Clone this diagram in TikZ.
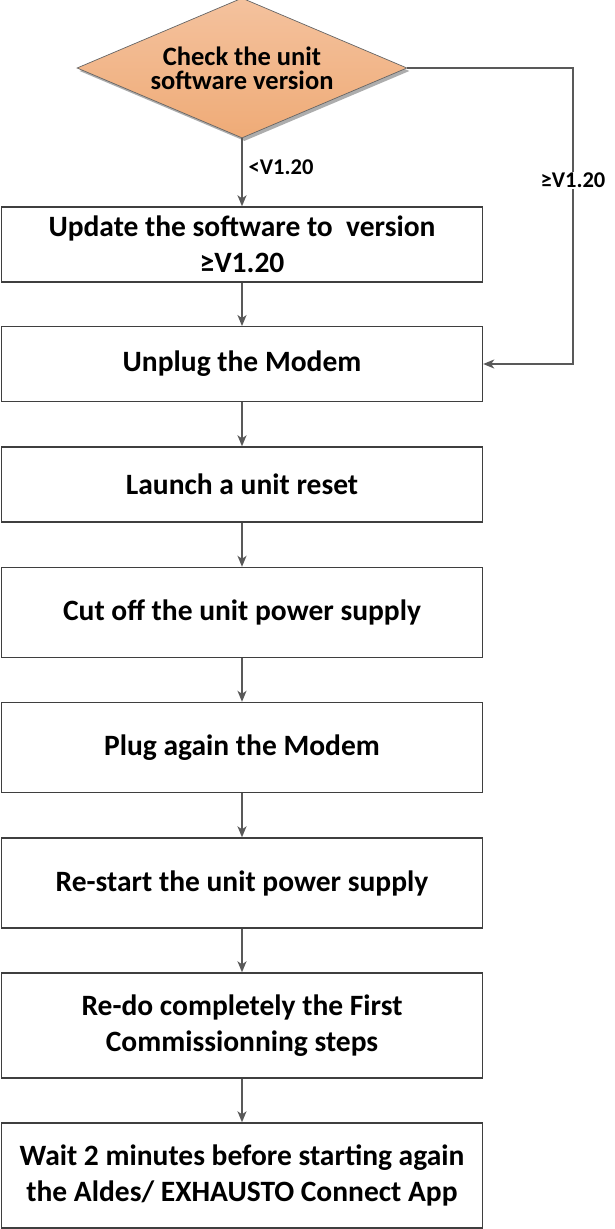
\documentclass[tikz,border=0pt]{standalone}
\usepackage{fontspec}
\setmainfont{Carlito}
\usetikzlibrary{shapes.geometric,arrows.meta,shadows}
\definecolor{boxline}{HTML}{3F3F3F}
\definecolor{conn}{HTML}{595959}
\definecolor{dtop}{HTML}{F4C29E}
\definecolor{dbot}{HTML}{EFAB77}
\tikzset{
  stepbox/.style={draw=boxline, line width=1.4pt, fill=white, rectangle,
    minimum width=481pt, inner sep=0pt, align=center,
    font=\fontsize{29.5pt}{36pt}\selectfont\bfseries},
  decbox/.style={diamond, aspect=2.357, minimum width=330pt, minimum height=140pt,
    inner sep=0pt, align=center, draw=boxline!80, line width=0.7pt,
    top color=dtop, bottom color=dbot,
    drop shadow={shadow xshift=2.5pt, shadow yshift=-3pt, fill=black!40, opacity=0.8},
    font=\fontsize{26.5pt}{24pt}\selectfont\bfseries},
  conline/.style={draw=conn, line width=1.5pt,
    -{Stealth[length=11pt,width=9pt,inset=3pt]}},
  lbl/.style={font=\fontsize{22.5pt}{26pt}\selectfont\bfseries, inner sep=1.5pt}
}
\begin{document}
\begin{tikzpicture}[x=1pt,y=-1pt]
\useasboundingbox (0,0) rectangle (615,1229);

\node[decbox] (dec) at (242,68) {Check the unit\\software version};

\node[stepbox, minimum height=75pt] (b1) at (242,244.5) {Update the software to\ \ version\\≥V1.20};
\node[stepbox, minimum height=74.5pt] (b2) at (242,364) {Unplug the Modem};
\node[stepbox, minimum height=75pt] (b3) at (242,484.5) {Launch a unit reset};
\node[stepbox, minimum height=90pt] (b4) at (242,612.5) {Cut off the unit power supply};
\node[stepbox, minimum height=90pt] (b5) at (242,747.5) {Plug again the Modem};
\node[stepbox, minimum height=90pt] (b6) at (242,883) {Re-start the unit power supply};
\node[stepbox, minimum height=105pt] (b7) at (242,1025.5) {Re-do completely the First\\Commissionning steps};
\node[stepbox, minimum height=105pt] (b8) at (242,1175.5) {Wait 2 minutes before starting again\\the Aldes/ EXHAUSTO Connect App};

\coordinate (c1) at (573,68);
\coordinate (c2) at (573,364);

\draw[conline] (dec.south) -- (b1.north);
\node[lbl, anchor=west] (lt) at (247,167) {<V1.20};
\draw[conline] (dec.east) -- (c1) -- node[pos=0.38, lbl, fill=white] (rt) {≥V1.20} (c2) -- (b2.east);
\draw[conline] (b1.south) -- (b2.north);
\draw[conline] (b2.south) -- (b3.north);
\draw[conline] (b3.south) -- (b4.north);
\draw[conline] (b4.south) -- (b5.north);
\draw[conline] (b5.south) -- (b6.north);
\draw[conline] (b6.south) -- (b7.north);
\draw[conline] (b7.south) -- (b8.north);
\end{tikzpicture}
\end{document}
